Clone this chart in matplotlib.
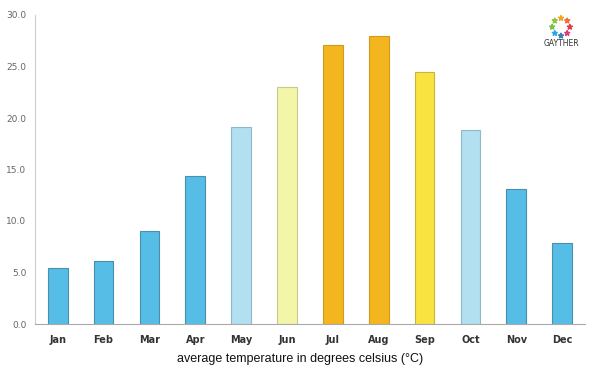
import numpy as np
import matplotlib.pyplot as plt

# monthly average temperatures
months = ['Jan', 'Feb', 'Mar', 'Apr', 'May', 'Jun', 'Jul', 'Aug', 'Sep', 'Oct', 'Nov', 'Dec']
temps = [5.4, 6.1, 9.0, 14.4, 19.1, 23.0, 27.1, 28.0, 24.5, 18.8, 13.1, 7.9]
colors = ['#56bde6', '#56bde6', '#56bde6', '#56bde6', '#b2e0f1', '#f3f5a9',
          '#f4b61f', '#f4b61f', '#f9e340', '#b2e0f1', '#56bde6', '#56bde6']
edges = ['#4a90ad', '#4a90ad', '#4a90ad', '#4a90ad', '#8fb8c8', '#c9c98a',
         '#d19a1a', '#d19a1a', '#c9b53a', '#8fb8c8', '#4a90ad', '#4a90ad']

fig = plt.figure(figsize=(6, 3.75), dpi=100)
ax = fig.add_axes([0.058, 0.136, 0.917, 0.824])

x = np.arange(len(months))
ax.bar(x, temps, width=0.43, color=colors, edgecolor=edges, linewidth=0.8)

ax.set_xlim(-0.5, len(months) - 0.5)
ax.set_ylim(0, 30)
ax.set_yticks(np.arange(0, 31, 5))
ax.set_yticklabels(['%.1f' % v for v in np.arange(0, 31, 5)])
ax.set_xticks(x)
ax.set_xticklabels(months, fontsize=7, fontweight='semibold', color='#333333')
ax.tick_params(axis='y', length=0, labelsize=6.5, labelcolor='#666666', pad=6)
ax.tick_params(axis='x', length=0, pad=8)

for s in ['top', 'right']:
    ax.spines[s].set_visible(False)
ax.spines['left'].set_color('#cccccc')
ax.spines['bottom'].set_color('#aaaaaa')

fig.text(0.5, 0.035, 'average temperature in degrees celsius (°C)',
         ha='center', fontsize=9, family='Liberation Sans', color='#111111')

# small logo in top right
logo = fig.add_axes([0.895, 0.888, 0.08, 0.08])
logo.set_aspect('equal')
ang = np.linspace(0, 2 * np.pi, 9)[:-1] + np.pi / 2
ring_cols = ['#f4a41e', '#8cc63f', '#7ac143', '#2aa9e0', '#3f7fc1', '#e6397a', '#e63946', '#f26b3a']
logo.scatter(np.cos(ang), np.sin(ang), s=14, c=ring_cols, marker='*')
logo.set_xlim(-1.7, 1.7)
logo.set_ylim(-1.7, 1.7)
logo.axis('off')
fig.text(0.935, 0.883, 'GAYTHER', ha='center', va='center', fontsize=5.5, color='#333333')

fig.savefig('out.png', dpi=100, facecolor='white')
